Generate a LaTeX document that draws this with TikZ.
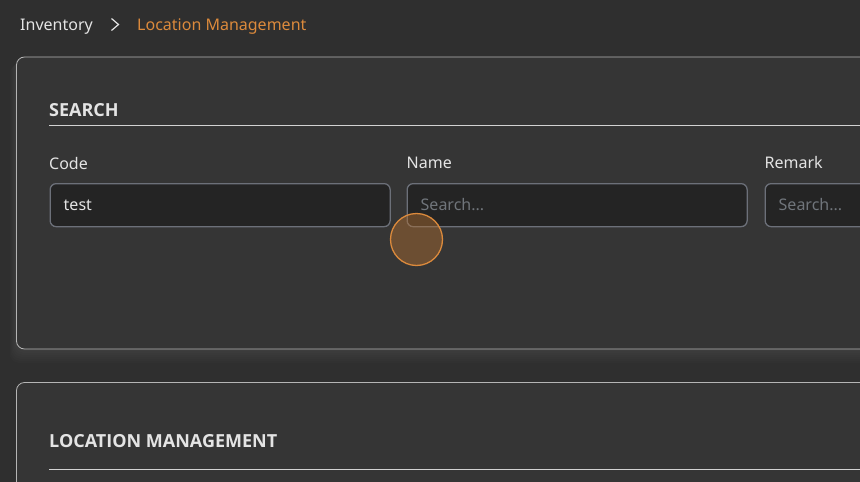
\documentclass[tikz,border=0pt]{standalone}
\usepackage{fontspec}
\setmainfont{Noto Sans}
\newfontfamily\headfont{Open Sans}
\usetikzlibrary{positioning}
\definecolor{pagebg}{HTML}{2F2F2F}
\definecolor{panelbg}{HTML}{353535}
\definecolor{panelline}{HTML}{B5B5B5}
\definecolor{ruleline}{HTML}{D2D2D2}
\definecolor{fieldbg}{HTML}{242424}
\definecolor{fieldline}{HTML}{6C7079}
\definecolor{labeltext}{HTML}{E4E4E4}
\definecolor{hinttext}{HTML}{70757B}
\definecolor{accent}{HTML}{DC8A3C}
\begin{document}
\begin{tikzpicture}[x=1pt,y=-1pt,
    panel/.style={draw=panelline,fill=panelbg,rounded corners=8pt,line width=0.8pt},
    field/.style={draw=fieldline,fill=fieldbg,rounded corners=6pt,line width=1.3pt,
      anchor=north west,minimum height=43pt,inner sep=0pt},
    lbl/.style={anchor=base west,inner sep=0pt,text=labeltext,font=\fontsize{16}{19}\selectfont},
    hint/.style={lbl,text=hinttext},
    heading/.style={lbl,font=\headfont\fontsize{18}{22}\selectfont\bfseries}]
  \useasboundingbox (0,0) rectangle (860,482);
  \clip (0,0) rectangle (860,482);
  \fill[pagebg] (0,0) rectangle (860,482);

  % breadcrumb
  \node[lbl] (crumbInv) at (20,30) {Inventory};
  \draw[labeltext,line width=1.2pt,line join=miter] (111.5,18.5) -- (118.5,24.5) -- (111.5,30.5);
  \node[lbl,text=accent] (crumbLoc) at (137,30) {Location Management};

  % search panel with soft glow underneath
  \foreach \g in {2,4,...,14}
    \fill[white,opacity=0.012,rounded corners=10pt] (16.5-\g/2,57+\g/2) rectangle (900,349+\g);
  \draw[panel] (16.5,57) rectangle (900,349);
  \node[heading] (searchTitle) at (49,116) {SEARCH};
  \draw[ruleline,line width=0.9pt] (49,125.5) -- (870,125.5);

  \node[lbl] (codeLbl) at (49,169) {Code};
  \node[lbl] (nameLbl) at (406.5,168) {Name};
  \node[lbl] (remarkLbl) at (764.5,168) {Remark};

  \node[field,minimum width=340pt] (codeBox) at (49.5,183) {};
  \node[field,minimum width=340pt] (nameBox) at (406.5,183) {};
  \node[field,minimum width=200pt] (remarkBox) at (764.5,183) {};

  \node[lbl] (codeVal) at ([xshift=14pt,yshift=-5.5pt]codeBox.west) {test};
  \node[hint] (nameHint) at ([xshift=14pt,yshift=-5.5pt]nameBox.west) {Search...};
  \node[hint] (remarkHint) at ([xshift=14pt,yshift=-5.5pt]remarkBox.west) {Search...};

  % click marker
  \filldraw[draw=accent,fill=accent!80!black,fill opacity=0.45,line width=1.3pt] (416.5,239.5) circle (26pt);

  % location management panel
  \draw[panel] (16.5,382.5) rectangle (900,560);
  \node[heading] (locTitle) at (49,447) {LOCATION MANAGEMENT};
  \draw[ruleline,line width=0.9pt] (49,469.5) -- (870,469.5);
\end{tikzpicture}
\end{document}
